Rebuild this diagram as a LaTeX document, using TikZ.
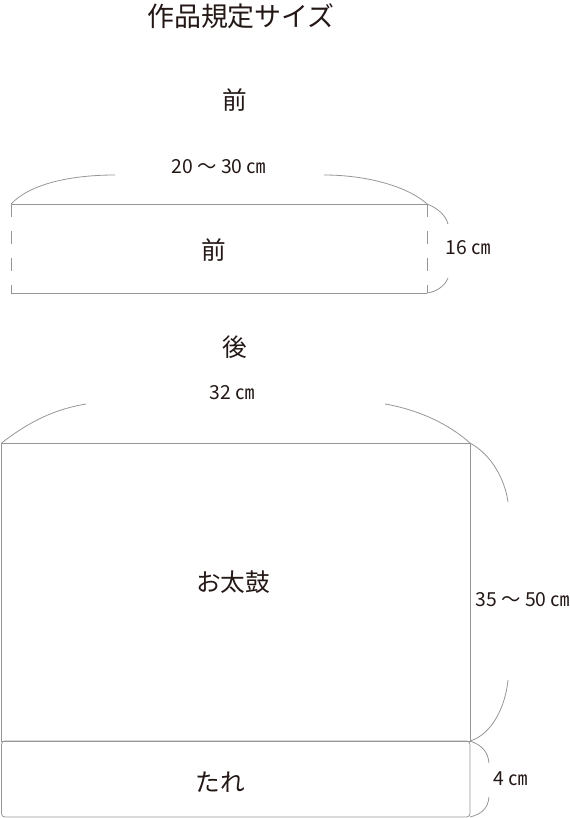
\documentclass[tikz,border=0pt]{standalone}
\usepackage{fontspec}
\setmainfont{Noto Sans CJK JP}
\usepackage{tikz}
\definecolor{inkline}{RGB}{150,150,150}
\definecolor{inktext}{RGB}{35,24,21}
\tikzstyle{draw:outline}=[draw=inkline, line width=0.6pt]
\tikzstyle{draw:fold}=[draw=inkline, line width=0.6pt, dash pattern=on 9.75pt off 10.5pt]
\tikzstyle{draw:bracket}=[draw=inkline, line width=0.6pt]
\tikzstyle{node:title}=[text=inktext, inner sep=0pt, font=\fontsize{20.2}{21}\selectfont]
\tikzstyle{node:part}=[text=inktext, inner sep=0pt, font=\fontsize{18.5}{20}\selectfont]
\tikzstyle{node:size}=[text=inktext, inner sep=0pt, font=\fontsize{14.5}{16}\selectfont]

\begin{document}
\begin{tikzpicture}[x=0.75pt,y=-0.75pt]
        \useasboundingbox (0,0) rectangle (570,818);

        % Title
        \node[node:title] (title) at (241,16) {作品規定サイズ};

        % Front piece
        \node[node:part] (front-head) at (235,100) {前};
        \coordinate (F-tl) at (11,204);
        \coordinate (F-tr) at (427,204);
        \coordinate (F-bl) at (11,293);
        \coordinate (F-br) at (427,293);
        \draw[draw:outline] (F-tl) -- (F-tr);
        \draw[draw:outline] (F-bl) -- (F-br);
        \draw[draw:fold] (F-tl) -- (F-bl);
        \draw[draw:fold] (F-tr) -- (F-br);
        \node[node:part] (front) at (214,250) {前};

        % Front sizes
        \node[node:size] (front-w) at (219,167) {20 〜 30 ㎝};
        \coordinate (FW-l) at (115,175);
        \coordinate (FW-r) at (324,175);
        \draw[draw:bracket] (F-tl) .. controls (30,184) and (70,175) .. (FW-l);
        \draw[draw:bracket] (FW-r) .. controls (370,175) and (410,188) .. (F-tr);
        \node[node:size,anchor=west] (front-h) at (445,248) {16 ㎝};
        \coordinate (FH-t) at (448,224);
        \coordinate (FH-b) at (448,278);
        \draw[draw:bracket] (F-tr) .. controls (438,208) and (446,216) .. (FH-t);
        \draw[draw:bracket] (FH-b) .. controls (445,286) and (436,292) .. (F-br);

        % Back piece
        \node[node:part] (back-head) at (235,347) {後};
        \coordinate (B-tl) at (1.5,443);
        \coordinate (B-tr) at (470,443);
        \coordinate (B-bl) at (1.5,741);
        \coordinate (B-br) at (470,741);
        \draw[draw:outline] (B-tl) rectangle (B-br);
        \draw[draw:outline,rounded corners=2.5pt] (B-bl) rectangle (470,817);
        \node[node:part] (otaiko) at (233,582) {お太鼓};
        \node[node:part] (tare) at (220,782) {たれ};

        % Back sizes
        \node[node:size] (back-w) at (232,393) {32 ㎝};
        \coordinate (BW-l) at (86,404);
        \coordinate (BW-r) at (385,404);
        \draw[draw:bracket] (B-tl) .. controls (25,425) and (50,410) .. (BW-l);
        \draw[draw:bracket] (BW-r) .. controls (420,410) and (450,425) .. (B-tr);
        \node[node:size] (back-h) at (523,600) {35 〜 50 ㎝};
        \coordinate (BH-t) at (508,502);
        \coordinate (BH-b) at (508,680);
        \draw[draw:bracket] (B-tr) .. controls (492,455) and (505,480) .. (BH-t);
        \draw[draw:bracket] (BH-b) .. controls (505,710) and (490,735) .. (B-br);
        \node[node:size] (tare-h) at (511,779) {4 ㎝};
        \coordinate (TH-t) at (489,763);
        \coordinate (TH-b) at (489,797);
        \draw[draw:bracket] (B-br) .. controls (482,745) and (488,752) .. (TH-t);
        \draw[draw:bracket] (TH-b) .. controls (488,808) and (482,814) .. (470,817);

    \end{tikzpicture}
\end{document}
